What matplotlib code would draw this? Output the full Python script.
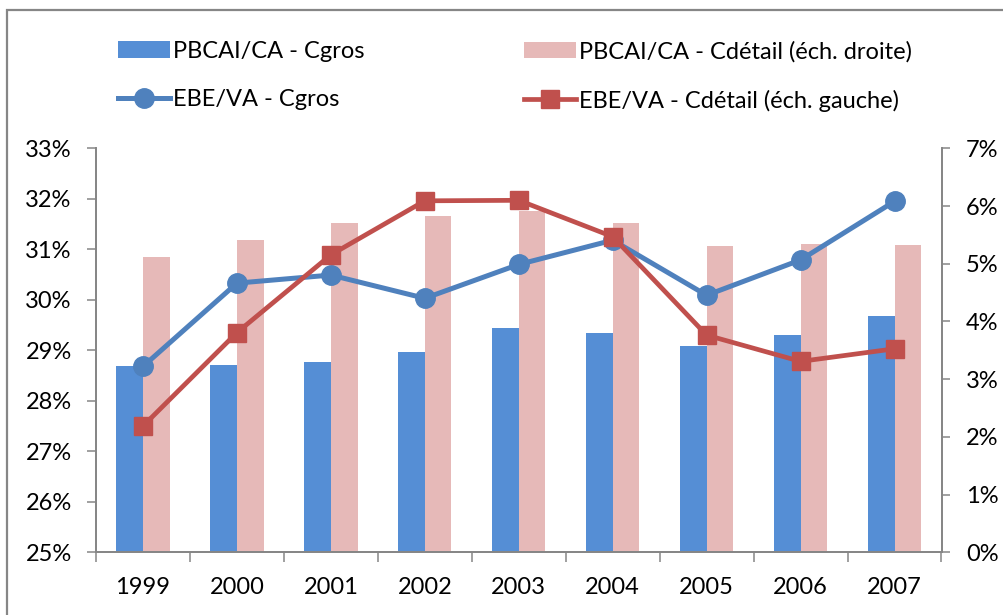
import matplotlib
matplotlib.use("Agg")
import matplotlib.pyplot as plt
import matplotlib.patches as mpatches
from matplotlib.ticker import FuncFormatter, FixedLocator
import numpy as np

plt.rcParams['font.family'] = ['Lato', 'DejaVu Sans']

years = ['1999', '2000', '2001', '2002', '2003', '2004', '2005', '2006', '2007']
# right axis (%)
pbcai_gros = [3.23, 3.24, 3.29, 3.47, 3.89, 3.80, 3.58, 3.76, 4.10]
pbcai_detail = [5.11, 5.41, 5.71, 5.83, 5.92, 5.71, 5.31, 5.35, 5.32]
# left axis (%)
ebe_gros = [28.68, 30.33, 30.49, 30.03, 30.70, 31.18, 30.09, 30.79, 31.95]
ebe_detail = [27.50, 29.35, 30.89, 31.96, 31.97, 31.25, 29.30, 28.78, 29.03]

labels = ['PBCAI/CA - Cgros', 'PBCAI/CA - Cdétail (éch. droite)',
          'EBE/VA - Cgros', 'EBE/VA - Cdétail (éch. gauche)']

c_bar1 = '#558ED5'
c_bar2 = '#E6B9B8'
c_line1 = '#4F81BD'
c_line2 = '#C0504D'
spine_c = '#868686'

W, H = 1004, 615
fig = plt.figure(figsize=(W / 100, H / 100), dpi=100)
ax = fig.add_axes([96 / W, 1 - 552.3 / H, (941.5 - 96) / W, (552.3 - 148.3) / H])
ax2 = ax.twinx()
ax.set_zorder(ax2.get_zorder() + 1)
ax.patch.set_visible(False)

x = np.arange(len(years))
bw = 0.284
ax2.bar(x - bw, pbcai_gros, width=bw, align='edge', color=c_bar1, label=labels[0])
ax2.bar(x, pbcai_detail, width=bw, align='edge', color=c_bar2, label=labels[1])

ax.plot(x, ebe_gros, color=c_line1, lw=3.6, marker='o', ms=14, label=labels[2])
ax.plot(x, ebe_detail, color=c_line2, lw=3.4, marker='s', ms=13.5, label=labels[3])

ax.set_xlim(-0.5, len(years) - 0.5)
ax.set_ylim(25, 33)
ax2.set_ylim(0, 7)
ax.set_yticks(np.arange(25, 34, 1))
ax2.set_yticks(np.arange(0, 8, 1))
ax.yaxis.set_major_formatter(FuncFormatter(lambda v, p: f'{v:.0f}%'))
ax2.yaxis.set_major_formatter(FuncFormatter(lambda v, p: f'{v:.0f}%'))

fs = 17
ax.set_xticks(x)
ax.set_xticklabels(years)
ax.xaxis.set_minor_locator(FixedLocator(np.arange(-0.5, len(years), 1)))
ax.tick_params(axis='x', which='major', length=0, pad=18, labelsize=fs)
ax.tick_params(axis='x', which='minor', length=7, width=1.1, color=spine_c, direction='out')
ax.tick_params(axis='y', length=6.5, width=1.1, color=spine_c, pad=11, labelsize=fs)
ax2.tick_params(axis='y', length=6, width=1.1, color=spine_c, pad=11.5, labelsize=fs)
ax2.tick_params(axis='x', length=0)

for a in (ax, ax2):
    a.spines['top'].set_visible(False)
    for s in ('left', 'right', 'bottom'):
        a.spines[s].set_color(spine_c)
        a.spines[s].set_linewidth(1.3)

# figure border
fig.patches.append(mpatches.Rectangle((7.5 / W, -0.2), 2, 1.2 - 10 / H, transform=fig.transFigure,
                                      fill=False, edgecolor=spine_c, lw=1.6))

h1, l1 = ax2.get_legend_handles_labels()
h2, l2 = ax.get_legend_handles_labels()
leg_kw = dict(loc='upper left', frameon=False, fontsize=fs, handlelength=2.2,
              handletextpad=0.15, labelspacing=1.15, borderpad=0)
leg1 = fig.legend([h1[0], h2[0]], [l1[0], l2[0]], bbox_to_anchor=(106 / W, 1 - 29 / H), **leg_kw)
leg2 = fig.legend([h1[1], h2[1]], [l1[1], l2[1]], bbox_to_anchor=(512 / W, 1 - 29 / H), **leg_kw)

fig.savefig('out.png', dpi=100)
